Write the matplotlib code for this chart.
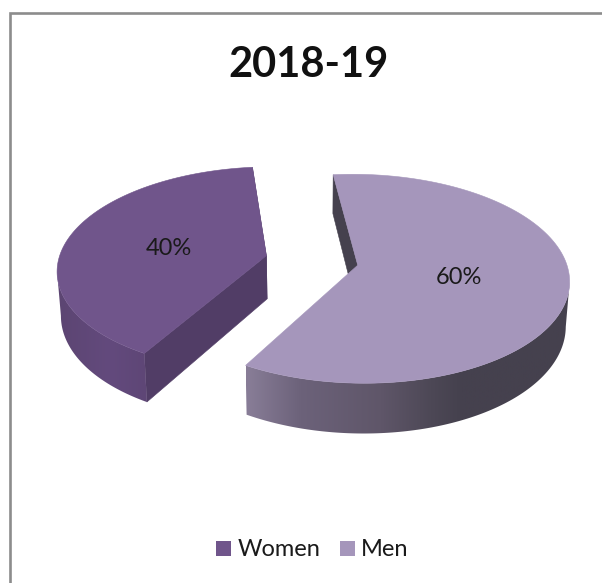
import numpy as np
import matplotlib
matplotlib.use("Agg")
import matplotlib.pyplot as plt
from matplotlib.colors import to_rgb
from matplotlib.patches import Polygon, Rectangle

title = "2018-19"
labels = ["Women", "Men"]
values = [40, 60]

# look of each slice: top face, cut faces, outer wall shades left to right
top_colors = ["#70558b", "#a596bb"]
cut_colors = ["#513d66", "#45414e"]
wall_stops = [
    [(57, "#5c4572"), (110, "#634a7d"), (147, "#5e4676")],
    [(247, "#887d97"), (300, "#6c627a"), (380, "#5f5669"), (430, "#4d4856"), (460, "#45414e")],
]

plt.rcParams["font.family"] = ["Lato", "DejaVu Sans"]

# camera used for the tilted pie
X0, Y0 = 312.5, 260.5
AX, AY = 208.0, 101.5
PERSP = 0.129
DEPTH = 43.5
SHRINK = 0.985
EXPLODE = [0.228, 0.221]
START = -6.0


def project(u, v, low=False):
    w = 1 + PERSP * v
    x = AX * u / w
    y = -AY * v / w
    if low:
        return X0 + x * SHRINK, Y0 + y + DEPTH / w
    return X0 + x, Y0 + y


def shade_row(stops, xs):
    px = [s[0] for s in stops]
    rgb = np.array([to_rgb(s[1]) for s in stops])
    return np.dstack([np.interp(xs, px, rgb[:, c]) for c in range(3)])


fig = plt.figure(figsize=(6.02, 5.83), dpi=100)
ax = fig.add_axes([0, 0, 1, 1])
ax.set_xlim(0, 602)
ax.set_ylim(583, 0)
ax.axis("off")

# chart frame
ax.plot([10, 10, 602], [583, 12.5, 12.5], color="#8c8c8c", lw=1.9, solid_joinstyle="miter")

total = sum(values)
fracs = [v / total for v in values]

# men run clockwise from the start angle, women fill the rest
spans = [
    (START + 360 * fracs[1], START + 360),
    (START, START + 360 * fracs[1]),
]
mid = np.radians((spans[0][0] + spans[0][1]) / 2)

for i in (0, 1):
    a0, a1 = spans[i]
    sign = 1 if i == 0 else -1
    du, dv = sign * EXPLODE[i] * np.sin(mid), sign * EXPLODE[i] * np.cos(mid)

    t = np.radians(np.linspace(a0, a1, 241))
    u = du + np.sin(t)
    v = dv + np.cos(t)
    tx, ty = project(u, v)
    bx, by = project(u, v, low=True)
    cx, cy = project(du, dv)
    lx, ly = project(du, dv, low=True)

    # cut faces
    ax.add_patch(Polygon([(cx, cy), (tx[0], ty[0]), (bx[0], by[0]), (lx, ly)],
                         fc=cut_colors[i], ec=cut_colors[i], lw=0.4))
    if i == 0:
        ax.add_patch(Polygon([(cx, cy), (tx[-1], ty[-1]), (bx[-1], by[-1]), (lx, ly)],
                             fc=cut_colors[i], ec=cut_colors[i], lw=0.4))

    # outer wall: only the front of the rim, from the widest point round to the cut
    if i == 0:
        keep = np.arange(0, np.argmin(tx) + 1)
        keep_low = np.arange(0, np.argmin(bx) + 1)
    else:
        keep = np.arange(np.argmax(tx), len(t))
        keep_low = np.arange(np.argmax(bx), len(t))
    wall = np.column_stack([np.r_[tx[keep], bx[keep_low][::-1]],
                            np.r_[ty[keep], by[keep_low][::-1]]])
    clip = Polygon(wall, transform=ax.transData, fc="none", ec="none")
    ax.add_patch(clip)
    x_lo, x_hi = wall[:, 0].min(), wall[:, 0].max()
    y_lo, y_hi = wall[:, 1].min(), wall[:, 1].max()
    im = ax.imshow(shade_row(wall_stops[i], np.linspace(x_lo, x_hi, 400)),
                   extent=[x_lo, x_hi, y_hi, y_lo], aspect="auto", zorder=1)
    im.set_clip_path(clip)

    top = np.column_stack([np.r_[cx, tx], np.r_[cy, ty]])
    ax.add_patch(Polygon(top, fc=top_colors[i], ec=top_colors[i], lw=0.4, zorder=2))

ax.set_xlim(0, 602)
ax.set_ylim(583, 0)

ax.text(309, 65, title, fontsize=30, fontweight="bold", color="#111111", ha="center", va="center")
ax.text(168.5, 248.5, f"{values[0]}%", fontsize=17, color="#1a1a1a", ha="center", va="center")
ax.text(458.5, 278, f"{values[1]}%", fontsize=17, color="#1a1a1a", ha="center", va="center")

# legend
for name, color, box_x, text_x in zip(labels, top_colors, (216, 340), (238, 361)):
    ax.add_patch(Rectangle((box_x, 541), 15, 15, fc=color, ec="none"))
    ax.text(text_x, 550, name, fontsize=17, color="#1a1a1a", ha="left", va="center")

fig.savefig("out.png", dpi=100)
